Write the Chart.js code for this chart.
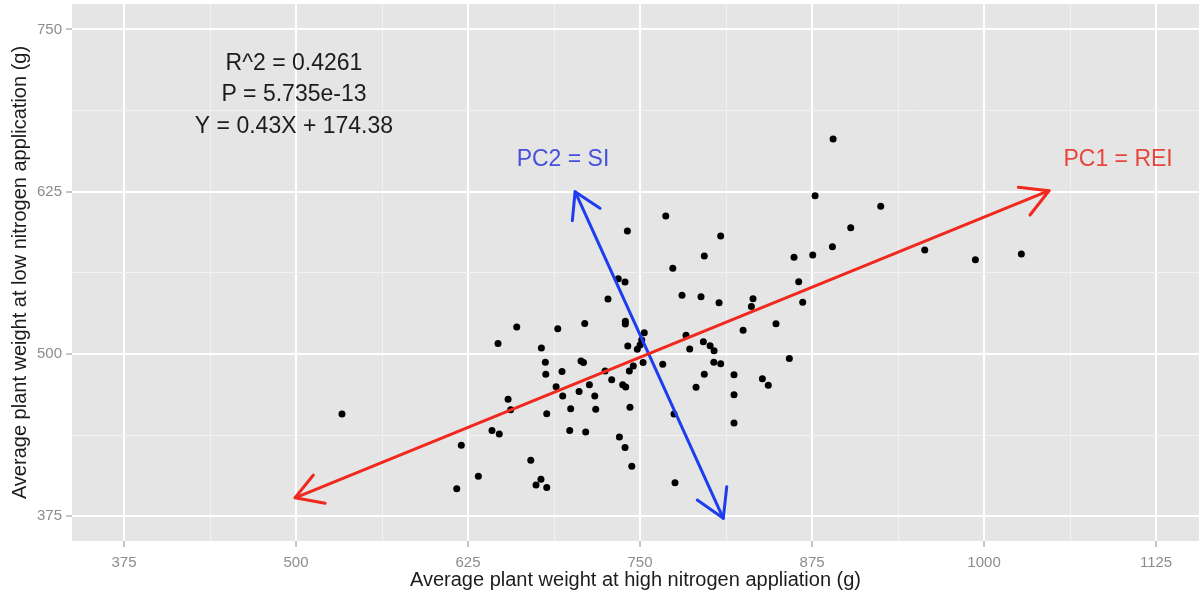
<!DOCTYPE html>
<html>
<head>
<meta charset="utf-8">
<title>High vs low nitrogen plant weight</title>
<script src="https://cdn.jsdelivr.net/npm/chart.js@4.4.1/dist/chart.umd.min.js"></script>
<style>
  html, body { margin: 0; padding: 0; background: #ffffff; }
  #wrap { width: 1199px; height: 597px; }
</style>
</head>
<body>
<div id="wrap"><canvas id="weightChart" width="1199" height="597"></canvas></div>
<script>
// tick labels
const xTickLabels = [375, 500, 625, 750, 875, 1000, 1125];
const yTickLabels = [375, 500, 625, 750];

// average plant weight (g): high nitrogen (x) vs low nitrogen (y)
const highN = [
  660.4, 690.2, 709.8, 646.8, 678.3, 681.2, 707.1, 708.9, 693.3, 877.2,
  924.9, 768.7, 740.8, 903.1, 808.6, 889.8, 861.9, 875.5, 796.7, 773.8,
  734.2, 739.1, 865.3, 780.5, 794.3, 726.7, 807.4, 868.2, 832.1, 830.9,
  739.3, 739.3, 848.8, 824.9, 753.1, 783.4, 751.2, 750.0, 741.1, 748.0,
  796.0, 786.1, 800.9, 803.8, 858.5, 752.2, 766.5, 803.6, 808.6, 745.1,
  724.6, 742.2, 796.7, 818.3, 729.4, 713.2, 737.4, 739.6, 838.9, 843.2,
  790.7, 705.7, 717.1, 818.3, 717.8, 742.7, 774.7, 818.3, 710.5, 735.0,
  739.1, 744.0, 775.4, 533.4, 681.5, 689.0, 693.8, 699.6, 682.2, 654.1,
  656.0, 698.9, 642.4, 647.7, 620.1, 670.6, 632.5, 616.8, 678.0, 674.4,
  682.2, 956.9, 993.7, 1027.1, 890.3
];
const lowN = [
  520.8, 519.5, 523.6, 508.2, 504.6, 493.6, 494.6, 493.5, 486.5, 621.9,
  613.8, 606.3, 594.7, 597.3, 590.9, 582.6, 574.5, 576.2, 575.5, 566.0,
  558.0, 555.5, 555.7, 545.2, 544.1, 542.4, 539.5, 539.8, 542.6, 536.7,
  525.2, 523.1, 523.3, 518.3, 516.4, 514.4, 510.8, 506.9, 506.2, 503.6,
  509.5, 503.9, 506.4, 502.5, 496.5, 493.5, 492.1, 493.6, 492.5, 490.8,
  486.9, 486.9, 484.4, 484.1, 480.2, 476.4, 476.4, 474.6, 481.0, 475.9,
  474.4, 471.1, 467.7, 468.7, 457.4, 459.0, 453.8, 446.9, 439.9, 436.1,
  428.1, 413.5, 400.9, 453.8, 484.4, 474.8, 467.7, 457.9, 454.0, 465.1,
  457.1, 441.2, 441.2, 438.4, 429.7, 418.1, 405.8, 396.3, 403.5, 399.1,
  397.3, 580.1, 572.6, 577.0, 665.6
];

// PC1 arrow (red), both ends have heads
const pc1X = [499.3, 1047.2];
const pc1Y = [389.3, 625.8];
const pc1HeadEndX = [1024.9, 1047.2, 1033.4];
const pc1HeadEndY = [628.4, 625.8, 607.1];
const pc1HeadStartX = [512.6, 499.3, 521.1];
const pc1HeadStartY = [406.8, 389.3, 385.0];

// PC2 arrow (blue)
const pc2X = [702.8, 810.5];
const pc2Y = [625.0, 373.5];
const pc2HeadTopX = [700.8, 702.8, 720.9];
const pc2HeadTopY = [602.7, 625.0, 612.2];
const pc2HeadBottomX = [791.6, 810.5, 813.0];
const pc2HeadBottomY = [387.5, 373.5, 397.8];

const statLines = ['R^2 = 0.4261', 'P = 5.735e-13', 'Y = 0.43X + 174.38'];

// gridlines: major at tick labels, minor half way between
function withMinor(major) {
  const all = major.slice();
  for (let i = 0; i < major.length - 1; i++) all.push((major[i] + major[i + 1]) / 2);
  return all.sort((a, b) => a - b);
}
const xGrid = withMinor(xTickLabels);
const yGrid = withMinor(yTickLabels);

const toPts = (xs, ys) => xs.map((x, i) => ({ x: x, y: ys[i] }));

const FONT = '"Liberation Sans", Arial, Helvetica, sans-serif';
Chart.defaults.font.family = FONT;

const panelBg = {
  id: 'panelBg',
  beforeDraw(chart) {
    const { ctx, chartArea: a } = chart;
    ctx.save();
    ctx.fillStyle = '#e5e5e5';
    ctx.fillRect(a.left, a.top, a.right - a.left, a.bottom - a.top);
    ctx.restore();
  }
};

const notes = {
  id: 'notes',
  afterDatasetsDraw(chart) {
    const { ctx, scales: { x, y } } = chart;
    ctx.save();
    ctx.textAlign = 'center';
    ctx.textBaseline = 'middle';
    ctx.font = '23px ' + FONT;
    ctx.fillStyle = '#1c1c1c';
    const statY = [724, 700, 675.3];
    statLines.forEach((t, i) => ctx.fillText(t, x.getPixelForValue(498.5), y.getPixelForValue(statY[i])));
    ctx.fillStyle = '#4650dc';
    ctx.fillText('PC2 = SI', x.getPixelForValue(694), y.getPixelForValue(649.4));
    ctx.fillStyle = '#e8463c';
    ctx.fillText('PC1 = REI', x.getPixelForValue(1097.4), y.getPixelForValue(649.4));
    ctx.restore();
  }
};

function arrowSet(xs, ys, color) {
  return {
    data: toPts(xs, ys),
    showLine: true,
    borderColor: color,
    borderWidth: 3,
    borderCapStyle: 'round',
    borderJoinStyle: 'round',
    pointRadius: 0,
    fill: false,
    tension: 0,
    order: 0
  };
}

const RED = '#f0281e';
const BLUE = '#1e3cf0';

function gridFor(major) {
  return {
    color: c => major.includes(c.tick.value) ? '#ffffff' : '#f2f2f2',
    lineWidth: c => major.includes(c.tick.value) ? 2 : 1,
    tickLength: 6,
    tickWidth: 1,
    tickColor: c => major.includes(c.tick.value) ? '#8c8c8c' : 'rgba(0,0,0,0)'
  };
}

new Chart(document.getElementById('weightChart'), {
  type: 'scatter',
  data: {
    datasets: [
      arrowSet(pc1X, pc1Y, RED),
      arrowSet(pc1HeadEndX, pc1HeadEndY, RED),
      arrowSet(pc1HeadStartX, pc1HeadStartY, RED),
      arrowSet(pc2X, pc2Y, BLUE),
      arrowSet(pc2HeadTopX, pc2HeadTopY, BLUE),
      arrowSet(pc2HeadBottomX, pc2HeadBottomY, BLUE),
      {
        data: toPts(highN, lowN),
        backgroundColor: '#000000',
        pointRadius: 3.5,
        pointBorderWidth: 0,
        order: 1
      }
    ]
  },
  options: {
    responsive: false,
    animation: false,
    layout: { autoPadding: false, padding: { top: 4, right: 0, left: 0, bottom: 0 } },
    plugins: {
      legend: { display: false },
      tooltip: { enabled: false }
    },
    scales: {
      x: {
        type: 'linear',
        min: 337.2,
        max: 1156.2,
        afterBuildTicks: s => { s.ticks = xGrid.map(v => ({ value: v })); },
        afterFit: s => { s.height = 56; s.paddingLeft = 0; s.paddingRight = 0; },
        grid: gridFor(xTickLabels),
        border: { display: false },
        ticks: {
          autoSkip: false,
          maxRotation: 0,
          padding: 7,
          color: '#8c8c8c',
          font: { size: 15 },
          callback: v => xTickLabels.includes(v) ? String(v) : ''
        },
        title: {
          display: true,
          text: 'Average plant weight at high nitrogen appliation (g)',
          color: '#1c1c1c',
          font: { size: 20 },
          padding: { top: 0, bottom: 5 }
        }
      },
      y: {
        type: 'linear',
        min: 356,
        max: 769.6,
        afterBuildTicks: s => { s.ticks = yGrid.map(v => ({ value: v })); },
        afterFit: s => { s.width = 72; s.paddingTop = 0; s.paddingBottom = 0; },
        grid: gridFor(yTickLabels),
        border: { display: false },
        ticks: {
          autoSkip: false,
          padding: 4,
          color: '#8c8c8c',
          font: { size: 15 },
          callback: v => yTickLabels.includes(v) ? String(v) : ''
        },
        title: {
          display: true,
          text: 'Average plant weight at low nitrogen application (g)',
          color: '#1c1c1c',
          font: { size: 20 },
          padding: { top: 8, bottom: 0 }
        }
      }
    }
  },
  plugins: [panelBg, notes]
});
</script>
</body>
</html>
